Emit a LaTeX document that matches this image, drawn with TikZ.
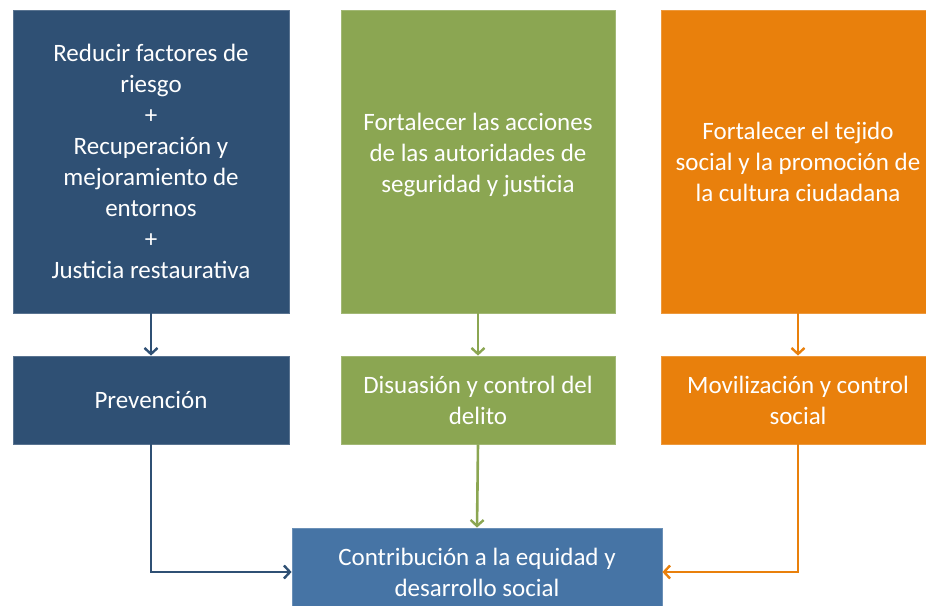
\documentclass[tikz,border=0pt]{standalone}
\usepackage{fontspec}
\setmainfont{Carlito}
\usetikzlibrary{arrows.meta}
\definecolor{azulosc}{RGB}{47,80,116}
\definecolor{verde}{RGB}{139,166,82}
\definecolor{naranja}{RGB}{233,128,12}
\definecolor{azulcla}{RGB}{70,116,165}
\begin{document}
\begin{tikzpicture}[x=1pt,y=-1pt,
    caja/.style={rectangle, fill=#1, draw=#1!80!white, line width=0.8pt,
        text=white, align=center, inner sep=0pt,
        font=\fontsize{25}{31}\selectfont},
    flecha/.style={draw=#1, line width=2.6pt,
        -{Straight Barb[length=6pt,width=13pt,line width=2.4pt]}}]
    \clip (0,0) rectangle (926,605);
    \useasboundingbox (0,0) rectangle (926,605);

    % fila de arriba
    \node[caja=azulosc, minimum width=276pt, minimum height=303pt] (riesgo) at (151,161.5)
        {Reducir factores de\\riesgo\\+\\Recuperación y\\mejoramiento de\\entornos\\+\\Justicia restaurativa};
    \node[caja=verde, minimum width=274pt, minimum height=303pt] (autoridades) at (478,161.5)
        {Fortalecer las acciones\\de las autoridades de\\seguridad y justicia\\[-13pt]};
    \node[caja=naranja, minimum width=274pt, minimum height=303pt] (tejido) at (798,161.5)
        {Fortalecer el tejido\\social y la promoción de\\la cultura ciudadana};

    % fila del medio
    \node[caja=azulosc, minimum width=276pt, minimum height=88pt] (prevencion) at (151,400)
        {Prevención};
    \node[caja=verde, minimum width=274pt, minimum height=88pt] (disuasion) at (478,400)
        {Disuasión y control del\\delito};
    \node[caja=naranja, minimum width=274pt, minimum height=88pt] (movilizacion) at (798,400)
        {Movilización y control\\social};

    % abajo
    \node[caja=azulcla, minimum width=370pt, minimum height=88pt] (equidad) at (477,572)
        {Contribución a la equidad y\\desarrollo social};

    \draw[flecha=azulosc] (riesgo.south) -- (prevencion.north);
    \draw[flecha=verde] (autoridades.south) -- (disuasion.north);
    \draw[flecha=naranja] (tejido.south) -- (movilizacion.north);

    \draw[flecha=azulosc] (prevencion.south) |- (equidad.west);
    \draw[flecha=verde] (disuasion.south) -- (equidad.north);
    \draw[flecha=naranja] (movilizacion.south) |- (equidad.east);
\end{tikzpicture}
\end{document}
